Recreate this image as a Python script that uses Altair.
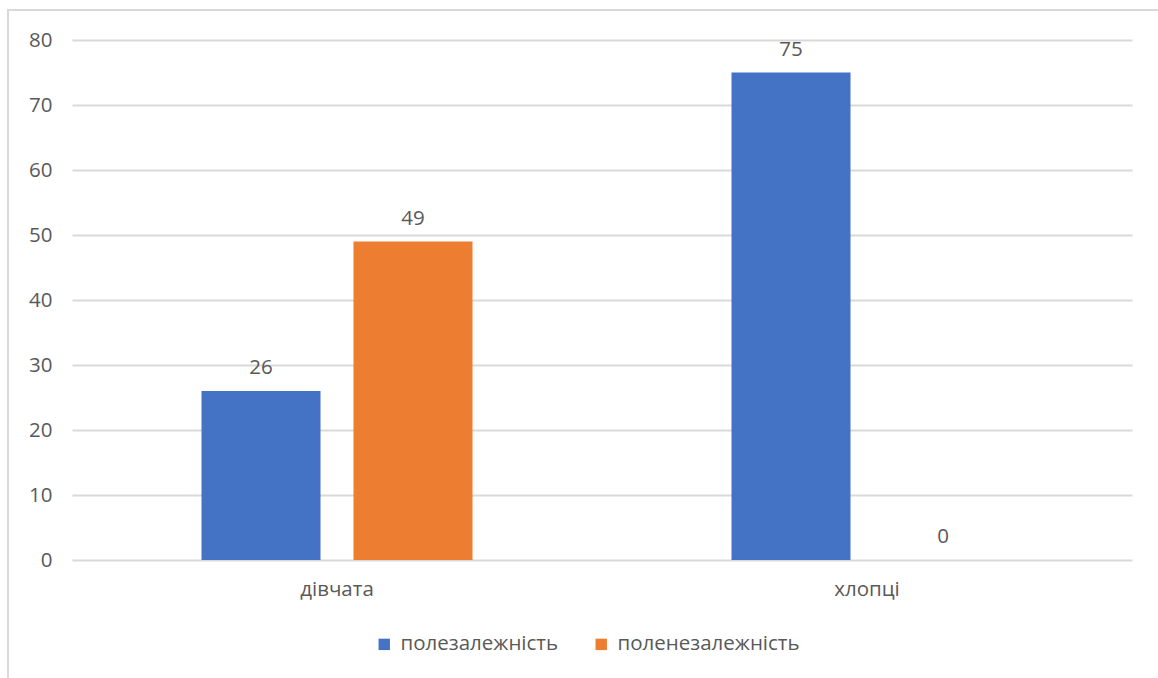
import altair as alt
import pandas as pd

# Categories, series and values
groups = ["дівчата", "хлопці"]
series = ["полезалежність", "поленезалежність"]
field_dependent = [26, 75]
field_independent = [49, 0]
y_ticks = [0, 10, 20, 30, 40, 50, 60, 70, 80]

rows = []
for i, g in enumerate(groups):
    rows.append({"group": g, "series": series[0], "value": field_dependent[i]})
    rows.append({"group": g, "series": series[1], "value": field_independent[i]})
df = pd.DataFrame(rows)

FONT = "Open Sans"
FS = 20.5
TEXT = "#595959"
GRID = "#d9d9d9"
COLORS = ["#4472C4", "#ED7D31"]

x = alt.X(
    "group:N", sort=groups, title=None,
    scale=alt.Scale(paddingInner=0, paddingOuter=0),
    axis=alt.Axis(labelAngle=0, domain=False, ticks=False, grid=False,
                  labelPadding=19, labelFontSize=FS, labelColor=TEXT, labelFont=FONT),
)
x_off = alt.XOffset("series:N", sort=series,
                    scale=alt.Scale(paddingInner=0.217, paddingOuter=0.852))
y = alt.Y(
    "value:Q", title=None,
    scale=alt.Scale(domain=[0, 80], nice=False),
    axis=alt.Axis(values=y_ticks, domain=False, ticks=False, labelPadding=20,
                  labelFontSize=FS, labelColor=TEXT, labelFont=FONT,
                  gridColor=GRID, gridWidth=2),
)

bars = alt.Chart(df).mark_bar().encode(
    x=x, xOffset=x_off, y=y,
    color=alt.Color(
        "series:N", sort=series,
        scale=alt.Scale(domain=series, range=COLORS),
        legend=alt.Legend(
            title=None, orient="none", direction="horizontal",
            legendX=302, legendY=594, symbolType="square", symbolSize=130,
            symbolStrokeWidth=0, labelFontSize=FS, labelFont=FONT,
            labelColor=TEXT, columnPadding=32, labelOffset=6, labelLimit=400,
        ),
    ),
)

labels = alt.Chart(df).mark_text(
    baseline="bottom", dy=-13, fontSize=FS, font=FONT, color=TEXT
).encode(x=x, xOffset=x_off, y=y, text=alt.Text("value:Q"))

# Outer chart frame
frame = alt.Chart(alt.Data(values=[{}])).mark_rect(
    fill=None, stroke=GRID, strokeWidth=2
).encode(
    x=alt.value(-64), x2=alt.value(1110),
    y=alt.value(-30), y2=alt.value(660),
)

chart = alt.layer(frame, bars, labels).properties(
    width=1060, height=520,
    autosize=alt.AutoSizeParams(type="none"),
    padding={"left": 72, "top": 40, "right": 26, "bottom": 118},
    background="white",
).configure_view(stroke=None)

chart.save("out.html", embed_options={"renderer": "svg", "actions": False})
